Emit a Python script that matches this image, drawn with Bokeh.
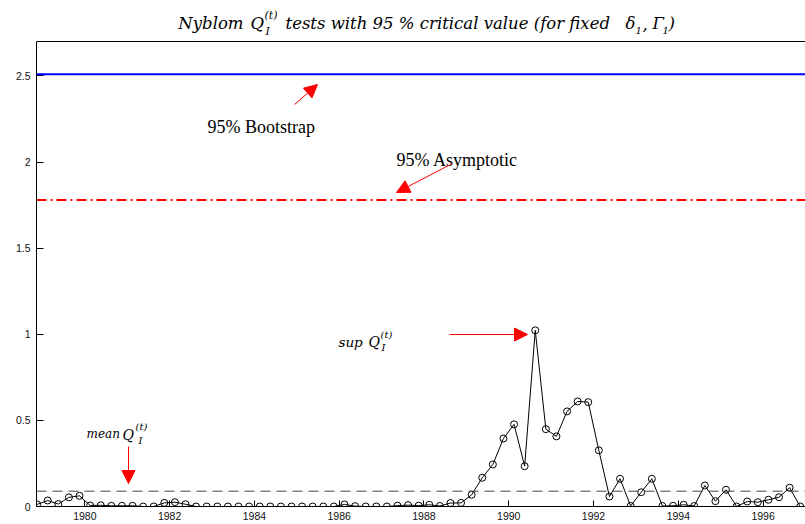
import pandas as pd
from bokeh.plotting import figure
from bokeh.models import Span, Label, Arrow, NormalHead, LinearAxis, FixedTicker, Range1d
from bokeh.embed import file_html
from bokeh.resources import INLINE

# ---------------- data ----------------
quarters = pd.period_range("1978Q4", "1996Q4", freq="Q")
t = [q.year + (q.quarter - 0.5) / 4 for q in quarters]

q_stat = [0.012, 0.035, 0.014, 0.053, 0.062, 0.006, 0.007, 0.004, 0.004, 0.004,
          0.0, 0.0, 0.021, 0.025, 0.013, 0.0, 0.0, 0.0, 0.0, 0.0,
          0.0, 0.0, 0.0, 0.0, 0.0, 0.0, 0.0, 0.0, 0.0, 0.012,
          0.002, 0.0, 0.0, 0.0, 0.005, 0.008, 0.005, 0.01, 0.003, 0.02,
          0.021, 0.068, 0.167, 0.244, 0.395, 0.477, 0.234, 1.023, 0.449, 0.407,
          0.552, 0.61, 0.606, 0.326, 0.058, 0.161, 0.003, 0.083, 0.161, 0.003,
          0.004, 0.01, 0.003, 0.122, 0.031, 0.097, 0.0, 0.029, 0.025, 0.039,
          0.054, 0.109, 0.0]

bootstrap_cv = 2.51
asymptotic_cv = 1.78
mean_q = 0.089

x_ticks = [1980, 1982, 1984, 1986, 1988, 1990, 1992, 1994, 1996]
x_tick_labels = [str(v) for v in x_ticks]
y_ticks = [0, 0.5, 1, 1.5, 2, 2.5]
y_tick_labels = ["0", "0.5", "1", "1.5", "2", "2.5"]
y_axis_top = 2.70

# ---------------- layout ----------------
# frame covers the canvas from the top; the visible box top is drawn at y_axis_top
FL, FR, FT, FB = 36, 805, 0, 506
BOX_TOP_PX = 41
X0, X1 = 1978.86, 1997.0
Y0 = 0.0
Y1 = y_axis_top * (FB - FT) / (FB - BOX_TOP_PX)


def dx(px):
    return X0 + (px - FL) * (X1 - X0) / (FR - FL)


def dy(py):
    return Y0 + (FB - py) * (Y1 - Y0) / (FB - FT)


p = figure(width=805, height=524, x_range=Range1d(X0, X1), y_range=Range1d(Y0, Y1),
           output_backend="svg", toolbar_location=None,
           x_axis_type=None, y_axis_type=None,
           min_border_left=FL, min_border_right=0, min_border_top=FT, min_border_bottom=18)
p.outline_line_color = None
p.background_fill_color = "white"

axis_style = dict(major_tick_out=0, minor_tick_in=0, minor_tick_out=0,
                  axis_line_color="black", major_tick_line_color="black",
                  major_label_text_font="Liberation Sans",
                  major_label_text_font_size="10.5px",
                  major_label_text_color="#111111")

xaxis = LinearAxis(ticker=FixedTicker(ticks=x_ticks),
                   major_label_overrides=dict(zip(x_ticks, x_tick_labels)),
                   major_tick_in=6, major_label_standoff=5, **axis_style)
p.add_layout(xaxis, "below")

yaxis = LinearAxis(ticker=FixedTicker(ticks=y_ticks), bounds=(Y0, y_axis_top),
                   major_label_overrides=dict(zip(y_ticks, y_tick_labels)),
                   major_tick_in=7, major_label_standoff=6, **axis_style)
p.add_layout(yaxis, "left")

# top edge of the axes box
p.add_layout(Span(location=y_axis_top, dimension="width", line_color="black", line_width=1))

# reference lines
p.add_layout(Span(location=bootstrap_cv, dimension="width", line_color="#0000ff", line_width=2))
p.add_layout(Span(location=asymptotic_cv, dimension="width", line_color="#ff0000", line_width=2,
                  line_dash="10 4 2 4"))
p.add_layout(Span(location=mean_q, dimension="width", line_color="#444444", line_width=1,
                  line_dash="10 6"))

# series
p.line(t, q_stat, line_color="black", line_width=1)
p.scatter(t, q_stat, marker="circle", size=7, fill_color=None, line_color="black", line_width=1)

# ---------------- text ----------------
ITAL = "DejaVu Serif"


def lab(text, px, py, size, font=ITAL, style="italic", align="left"):
    p.add_layout(Label(x=dx(px), y=dy(py), text=text, text_font=font, text_font_style=style,
                       text_font_size=f"{size}px", text_align=align, text_baseline="alphabetic",
                       text_color="black"))


# title
lab("Nyblom", 243, 23, 16.5, align="right")
lab("Q", 250, 23, 16.5)
lab("(t)", 264, 15, 11)
lab("I", 265, 31, 11)
lab("tests with 95 % critical value (for fixed", 285, 23, 16.5)
lab("δ", 625, 23, 16.5)
lab("1", 635, 30, 10)
lab(",", 642, 23, 16.5)
lab("Γ", 652, 23, 16.5)
lab("1", 662, 30, 10)
lab(")", 668, 23, 16.5)

# annotations
lab("95% Bootstrap", 207, 126, 18, font="Liberation Serif", style="normal")
lab("95% Asymptotic", 396, 159, 18, font="Liberation Serif", style="normal")

lab("sup", 338, 341, 13.5)
lab("Q", 368, 341, 14)
lab("(t)", 380, 334, 10)
lab("I", 381, 347, 10)

lab("mean", 86, 433, 12)
lab("Q", 122, 434, 14)
lab("(t)", 135, 426, 10)
lab("I", 138, 440, 10)


def arrow(x1, y1, x2, y2):
    p.add_layout(Arrow(end=NormalHead(size=13, fill_color="#ff0000", line_color="#ff0000"),
                       x_start=dx(x1), y_start=dy(y1), x_end=dx(x2), y_end=dy(y2),
                       line_color="#ff0000", line_width=1))


arrow(294, 104, 317, 84)
arrow(452, 163, 396, 192)
arrow(449, 334, 527, 334)
arrow(128, 446, 128, 483)

open("out.html", "w").write(file_html(p, INLINE))
